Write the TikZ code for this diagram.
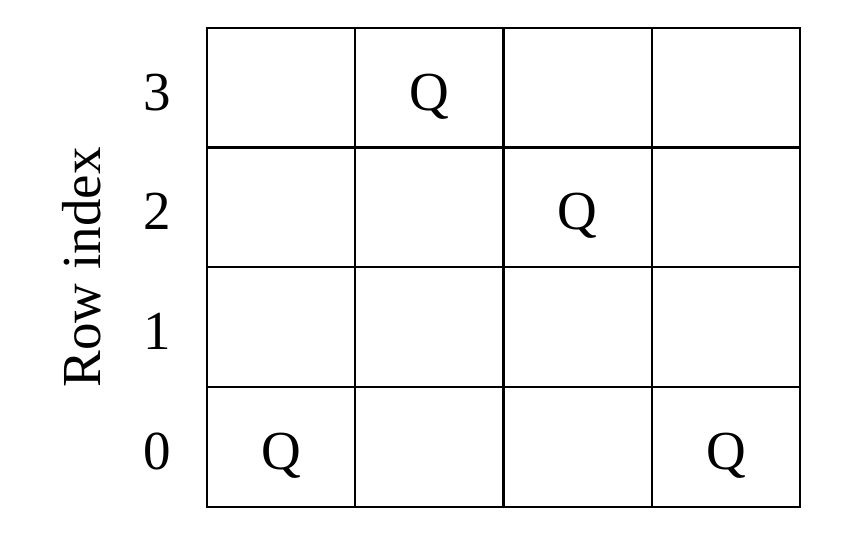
\documentclass[tikz,border=0pt]{standalone}
\usepackage{fontspec}
\setmainfont{Liberation Serif}
\usetikzlibrary{positioning}

\tikzset{cell/.style={draw, rectangle, line width=2.2pt, outer sep=0pt, minimum height=119.8pt, minimum width=148.25pt, text height=45pt, text depth=0pt},
  rowtag/.style={inner sep=0pt, text height=45pt, text depth=0pt}}

\begin{document}
\begin{tikzpicture}[x=1pt, y=-1pt, font=\fontsize{55}{66}\selectfont]

\useasboundingbox (0,0) rectangle (844,540);

\node[cell, anchor=north west] (r3c0) at (207,27.7) {};
\node[cell, right=0cm of r3c0] (r3c1) {Q};
\node[cell, right=0cm of r3c1] (r3c2) {};
\node[cell, right=0cm of r3c2] (r3c3) {};

\node[cell, below=0cm of r3c0] (r2c0) {};
\node[cell, right=0cm of r2c0] (r2c1) {};
\node[cell, right=0cm of r2c1] (r2c2) {Q};
\node[cell, right=0cm of r2c2] (r2c3) {};

\node[cell, below=0cm of r2c0] (r1c0) {};
\node[cell, right=0cm of r1c0] (r1c1) {};
\node[cell, right=0cm of r1c1] (r1c2) {};
\node[cell, right=0cm of r1c2] (r1c3) {};

\node[cell, below=0cm of r1c0] (r0c0) {Q};
\node[cell, right=0cm of r0c0] (r0c1) {};
\node[cell, right=0cm of r0c1] (r0c2) {};
\node[cell, right=0cm of r0c2] (r0c3) {Q};

\node[rowtag, left=36pt of r3c0] (idx3) {3};
\node[rowtag, left=36pt of r2c0] (idx2) {2};
\node[rowtag, left=36pt of r1c0] (idx1) {1};
\node[rowtag, left=36pt of r0c0] (idx0) {0};

\node[rotate=90, anchor=base] (ylabel) at ([xshift=-107pt]r2c0.south west) {Row index};

\end{tikzpicture}
\end{document}
